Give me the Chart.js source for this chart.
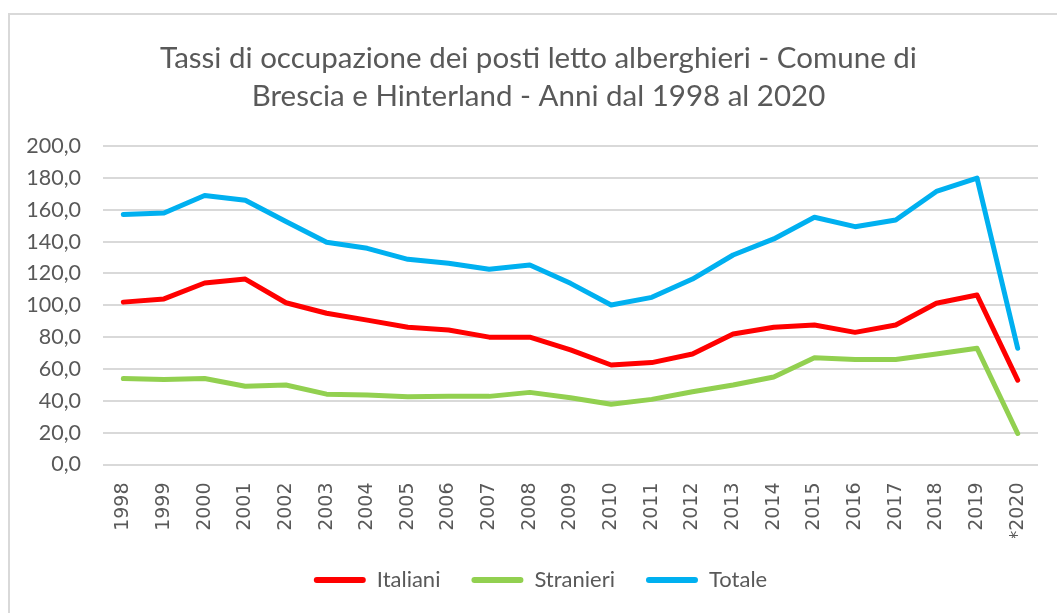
<!DOCTYPE html>
<html>
<head>
<meta charset="utf-8">
<script src="https://cdn.jsdelivr.net/npm/chart.js@4/dist/chart.umd.min.js"></script>
<style>
  html, body { margin: 0; padding: 0; background: #fff; }
  #wrap { position: relative; width: 1057px; height: 613px; overflow: hidden; }
  #frame { position: absolute; left: 8px; top: 13px; width: 1100px; height: 700px; border-left: 2px solid #d9d9d9; border-top: 2px solid #d9d9d9; box-sizing: border-box; }
  canvas { position: absolute; left: 0; top: 0; }
</style>
</head>
<body>
<div id="wrap">
  <div id="frame"></div>
  <canvas id="c" width="1057" height="613"></canvas>
</div>
<script>
const titleLines = ['Tassi di occupazione dei posti letto alberghieri - Comune di', 'Brescia e Hinterland - Anni dal 1998 al 2020'];
const categories = ['1998','1999','2000','2001','2002','2003','2004','2005','2006','2007','2008','2009','2010','2011','2012','2013','2014','2015','2016','2017','2018','2019','*2020'];
const italiani  = [102, 104, 114, 116.5, 101.6, 95, 90.7, 86.2, 84.5, 80, 80, 72, 62.5, 64, 69.4, 82, 86.2, 87.6, 83, 87.6, 101.3, 106.5, 53];
const stranieri = [54, 53.4, 54, 49.2, 49.9, 44.2, 43.6, 42.5, 42.8, 42.8, 45.3, 41.9, 37.9, 40.9, 45.7, 49.9, 55, 67, 66, 66, 69.4, 73, 19.5];
const totale    = [157, 158, 169, 166, 152.6, 139.6, 135.8, 128.9, 126.4, 122.6, 125.3, 113.8, 100.2, 105, 116.5, 131.6, 141.7, 155.3, 149.4, 153.6, 171.5, 179.9, 73];
const seriesNames = ['Italiani', 'Stranieri', 'Totale'];
const yMin = 0, yMax = 200, yStep = 20;

const colors = ['#ff0000', '#92d050', '#00b0f0'];
const txt = '#595959';

function ds(label, data, color) {
  return { label, data, borderColor: color, backgroundColor: color, borderWidth: 5,
    pointRadius: 0, pointHoverRadius: 0, tension: 0, borderJoinStyle: 'round', borderCapStyle: 'round', fill: false };
}

// Shift title and legend boxes so they are centred like the reference
const shiftBoxes = {
  id: 'shiftBoxes',
  afterLayout(chart) {
    if (chart.titleBlock) chart.titleBlock.left += 30;
    if (chart.legend) chart.legend.left += 34;
  }
};

new Chart(document.getElementById('c'), {
  type: 'line',
  plugins: [shiftBoxes],
  data: {
    labels: categories,
    datasets: [
      ds(seriesNames[0], italiani, colors[0]),
      ds(seriesNames[1], stranieri, colors[1]),
      ds(seriesNames[2], totale, colors[2])
    ]
  },
  options: {
    responsive: false,
    animation: false,
    events: [],
    layout: { padding: { left: 9, right: 19, top: 0, bottom: 12 } },
    plugins: {
      title: {
        display: true, text: titleLines, color: txt,
        font: { family: 'Lato', size: 29.5, weight: 'normal', lineHeight: 1.29 },
        padding: { top: 39, bottom: 31 }
      },
      legend: {
        position: 'bottom',
        labels: {
          color: txt, font: { family: 'Lato', size: 22 },
          boxWidth: 52, boxHeight: 6, padding: 31, useBorderRadius: true, borderRadius: 3,
          generateLabels: (chart) => Chart.defaults.plugins.legend.labels.generateLabels(chart)
            .map(l => Object.assign(l, { lineWidth: 0, fillStyle: l.strokeStyle }))
        }
      },
      tooltip: { enabled: false }
    },
    scales: {
      x: {
        offset: true,
        grid: { display: false },
        border: { display: false },
        ticks: { color: txt, font: { family: 'DejaVu Sans', size: 19 }, minRotation: 90, maxRotation: 90, autoSkip: false, padding: 10 },
        afterFit: s => { s.height = 73.5; }
      },
      y: {
        min: yMin, max: yMax,
        grid: { color: '#d9d9d9', lineWidth: 2, drawTicks: false },
        border: { display: false },
        ticks: { stepSize: yStep, color: txt, font: { family: 'Lato', size: 21.5 }, padding: 22,
          callback: v => v.toFixed(1).replace('.', ',') },
        afterFit: s => { s.width = 94; }
      }
    }
  }
});
</script>
</body>
</html>
